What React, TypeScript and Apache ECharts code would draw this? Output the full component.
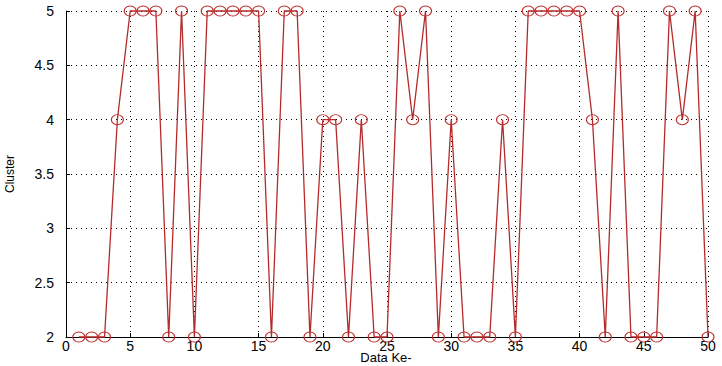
import React, { useEffect, useRef } from "react";
import * as echarts from "echarts";

const dataKe: number[] = Array.from({ length: 50 }, (_, i) => i + 1);
const cluster: number[] = [
  2, 2, 2, 4, 5, 5, 5, 2, 5, 2,
  5, 5, 5, 5, 5, 2, 5, 5, 2, 4,
  4, 2, 4, 2, 2, 5, 4, 5, 2, 4,
  2, 2, 2, 4, 2, 5, 5, 5, 5, 5,
  4, 2, 5, 2, 2, 2, 5, 4, 5, 2,
];
const xTitle = "Data Ke-";
const yTitle = "Cluster";

export default function App() {
  const ref = useRef<HTMLDivElement>(null);
  useEffect(() => {
    if (!ref.current) return;
    const chart = echarts.init(ref.current, null, { renderer: "svg" });
    const font = "'Liberation Sans', Arial, sans-serif";
    chart.setOption({
      animation: false,
      backgroundColor: "#ffffff",
      grid: { left: 66, right: 14, top: 11, bottom: 29, containLabel: false, outerBoundsMode: "none" },
      graphic: [
        {
          type: "text",
          x: 386,
          y: 351,
          style: {
            text: xTitle,
            fill: "#000",
            font: "13px 'Liberation Sans', Arial, sans-serif",
            textAlign: "center",
            textVerticalAlign: "top",
          },
        },
      ],
      xAxis: {
        type: "value",
        min: 0,
        max: 50,
        interval: 5,
        axisLine: { show: true, lineStyle: { color: "#000", width: 1 } },
        axisTick: { show: true, inside: true, length: 4, lineStyle: { color: "#000" } },
        axisLabel: { color: "#000", fontFamily: font, fontSize: 14, margin: 2 },
        splitLine: { show: true, lineStyle: { color: "#000", type: [1, 4], width: 1 } },
      },
      yAxis: {
        type: "value",
        min: 2,
        max: 5,
        interval: 0.5,
        name: yTitle,
        nameLocation: "middle",
        nameGap: 50,
        nameMoveOverlap: false,
        nameTextStyle: { color: "#000", fontFamily: font, fontSize: 12 },
        axisLine: { show: true, lineStyle: { color: "#000", width: 1 } },
        axisTick: { show: true, inside: true, length: 4, lineStyle: { color: "#000" } },
        axisLabel: { color: "#000", fontFamily: font, fontSize: 14, margin: 12 },
        splitLine: { show: true, lineStyle: { color: "#000", type: [1, 4], width: 1 } },
      },
      series: [
        {
          type: "line",
          data: dataKe.map((x, i) => [x, cluster[i]]),
          symbol: "circle",
          symbolSize: [12, 10],
          showAllSymbol: true,
          clip: false,
          lineStyle: { color: "#b52a2a", width: 1.3 },
          itemStyle: { color: "rgba(0,0,0,0)", borderColor: "#c03030", borderWidth: 1 },
        },
      ],
    });
    return () => chart.dispose();
  }, []);
  return <div ref={ref} style={{ width: 722, height: 366, position: "absolute", left: 0, top: 0 }} />;
}
